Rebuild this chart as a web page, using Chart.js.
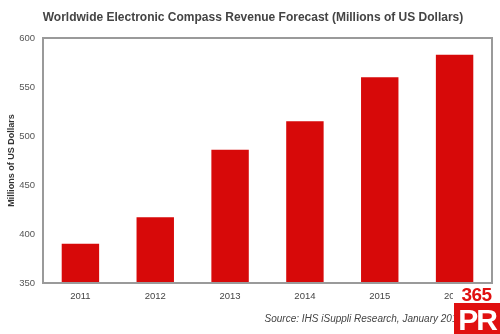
<!DOCTYPE html>
<html>
<head>
<meta charset="utf-8">
<script src="https://cdn.jsdelivr.net/npm/chart.js@4/dist/chart.umd.min.js"></script>
<style>
  html,body{margin:0;padding:0;background:#fff;}
  #wrap{position:relative;width:500px;height:334px;}
  #logo365{position:absolute;left:453px;top:286px;width:47px;height:17px;background:#fff;
    font:bold 19px "Liberation Sans",Arial,sans-serif;color:#e01010;text-align:center;line-height:17px;letter-spacing:-0.5px;}
  #logoPR{position:absolute;left:454px;top:303px;width:46px;height:31px;background:#e01010;
    font:bold 30px "Liberation Sans",Arial,sans-serif;color:#fff;text-align:center;line-height:33px;letter-spacing:-2px;}
</style>
</head>
<body>
<div id="wrap">
  <canvas id="chart" width="500" height="334"></canvas>
  <div id="logo365">365</div>
  <div id="logoPR">PR</div>
</div>
<script>
// Electronic compass revenue, millions of USD
const years   = ['2011','2012','2013','2014','2015','2016'];
const revenue = [390, 417, 486, 515, 560, 583];
const yMin = 350, yMax = 600, yStep = 50;

const TITLE  = 'Worldwide Electronic Compass Revenue Forecast (Millions of US Dollars)';
const SOURCE = 'Source: IHS iSuppli Research, January 2013';
const FONT   = '"Liberation Sans", Arial, sans-serif';

// frame around the plot, heading on top, source line under the axis
const framePlugin = {
  id:'frame',
  afterDatasetsDraw(chart){
    const {ctx, chartArea:a} = chart;
    ctx.save();
    ctx.strokeStyle = '#9a9a9a';
    ctx.lineWidth = 2;
    ctx.strokeRect(a.left, a.top, a.right - a.left, a.bottom - a.top);
    ctx.restore();
  },
  afterDraw(chart){
    const {ctx, chartArea:a} = chart;
    ctx.save();
    ctx.textBaseline = 'middle';
    ctx.font = 'bold 12px ' + FONT;
    ctx.fillStyle = '#444';
    ctx.textAlign = 'center';
    ctx.fillText(TITLE, 253, 18);
    ctx.font = 'italic 10px ' + FONT;
    ctx.textAlign = 'right';
    ctx.fillText(SOURCE, a.right - 29, 319);
    ctx.restore();
  }
};

new Chart(document.getElementById('chart'), {
  type:'bar',
  data:{
    labels: years,
    datasets:[{
      data: revenue,
      backgroundColor:'#d70909',
      borderWidth:0,
      categoryPercentage:1,
      barPercentage:0.5
    }]
  },
  options:{
    responsive:false,
    animation:false,
    layout:{padding:{left:0, right:8, top:38, bottom:26}},
    plugins:{
      legend:{display:false},
      tooltip:{enabled:false},
      title:{display:false}
    },
    scales:{
      x:{
        grid:{display:false, drawTicks:false},
        border:{display:false},
        ticks:{color:'#444', font:{family:FONT, size:9.5}, padding:8},
        afterFit(s){ s.height = 25; }
      },
      y:{
        min:yMin, max:yMax,
        grid:{display:false, drawTicks:false},
        border:{display:false},
        ticks:{stepSize:yStep, color:'#555', font:{family:FONT, size:9.5}, padding:8},
        title:{display:true, text:'Millions of US Dollars', color:'#333',
          font:{family:FONT, size:9, weight:'bold'}, padding:{top:6, bottom:4}},
        afterFit(s){ s.width = 43; }
      }
    }
  },
  plugins:[framePlugin]
});
</script>
</body>
</html>
